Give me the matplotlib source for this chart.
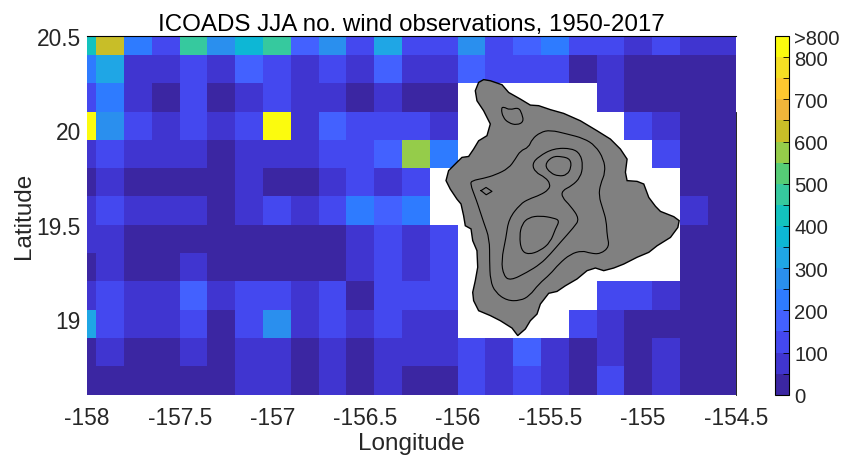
import numpy as np
import matplotlib
matplotlib.use("Agg")
import matplotlib.pyplot as plt
from matplotlib.colors import ListedColormap, BoundaryNorm
from matplotlib.path import Path
from matplotlib.patches import PathPatch

plt.rcParams['font.family'] = ['Liberation Sans', 'DejaVu Sans']
N = np.nan

lon_edges = [-158.0, -157.95, -157.8, -157.65, -157.5, -157.35, -157.2, -157.05, -156.9,
             -156.75, -156.6, -156.45, -156.3, -156.15, -156.0, -155.85, -155.7, -155.55,
             -155.4, -155.25, -155.1, -154.95, -154.8, -154.65, -154.5]
lat_edges = [20.5, 20.4, 20.25, 20.1, 19.95, 19.8, 19.65, 19.5, 19.35, 19.2, 19.05, 18.9, 18.75, 18.6]

obs_r01 = [425,625,225,125,475,275,375,475,175,275,125,325,125,125,275,125,175,225,125,125,75,125,75,75]
obs_r02 = [225,325,75,75,125,75,175,125,75,125,75,175,75,75,175,125,125,125,25,75,25,25,25,25]
obs_r03 = [125,225,75,25,125,25,75,125,75,75,25,75,25,25,N,N,N,N,N,75,25,25,25,25]
obs_r04 = [825,275,125,75,125,75,125,825,75,175,125,125,125,75,N,N,N,N,N,N,125,75,25,25]
obs_r05 = [75,125,75,75,75,25,75,75,75,125,125,175,575,225,N,N,N,N,N,N,N,125,25,25]
obs_r06 = [25,75,25,25,25,25,75,25,25,75,125,75,125,N,N,N,N,N,N,N,N,N,25,25]
obs_r07 = [75,125,75,75,75,25,75,125,75,125,225,175,225,N,N,N,N,N,N,N,N,N,75,25]
obs_r08 = [75,75,25,25,25,25,25,25,25,25,75,125,75,125,N,N,N,N,N,N,N,N,25,25]
obs_r09 = [25,75,25,25,75,25,25,25,25,25,75,125,75,125,N,N,N,N,N,N,N,N,25,25]
obs_r10 = [75,125,75,75,175,75,125,125,75,125,25,125,125,125,N,N,N,N,N,125,125,75,25,25]
obs_r11 = [325,125,75,75,125,25,125,275,75,125,75,125,75,75,N,N,N,N,125,75,25,25,25,25]
obs_r12 = [25,75,25,25,75,25,75,75,25,75,25,75,75,75,125,75,175,75,25,75,25,75,25,25]
obs_r13 = [25,25,25,25,25,25,75,75,25,75,25,75,25,25,125,75,125,75,25,125,25,75,25,25]
obs = np.array([obs_r01, obs_r02, obs_r03, obs_r04, obs_r05, obs_r06, obs_r07,
                obs_r08, obs_r09, obs_r10, obs_r11, obs_r12, obs_r13], dtype=float)

level_colors = ['#3B26A2','#4035D0','#4448EF','#4361FF','#2E7BFF','#2A8FEE','#1FA6E5','#0DB7D5',
                '#13C2BE','#36C99E','#56CC76','#95CC4A','#C8BE28','#F0B63A','#FEC72F','#F5DF23','#FBFB0E']
level_bounds = list(range(0, 851, 50))
cbar_ticks = list(range(0, 851, 50))
cbar_labels = ['0','','100','','200','','300','','400','','500','','600','','700','','800','>800']

island_lon = [-155.860,-155.824,-155.761,-155.725,-155.662,-155.608,-155.563,-155.500,-155.428,-155.338,
              -155.248,-155.176,-155.122,-155.086,-155.095,-155.086,-155.032,-154.996,-154.969,-154.933,
              -154.906,-154.834,-154.805,-154.812,-154.852,-154.924,-154.969,-155.032,-155.104,-155.158,
              -155.212,-155.257,-155.302,-155.356,-155.419,-155.464,-155.509,-155.554,-155.572,-155.608,
              -155.635,-155.676,-155.707,-155.770,-155.824,-155.887,-155.914,-155.919,-155.905,-155.892,
              -155.896,-155.919,-155.928,-155.959,-155.968,-155.982,-156.004,-156.040,-156.063,-156.049,
              -156.004,-155.977,-155.941,-155.914,-155.887,-155.842,-155.824,-155.860,-155.896,-155.905,-155.887]
island_lat = [20.269,20.263,20.242,20.201,20.166,20.134,20.131,20.110,20.090,20.051,
              19.998,19.954,19.901,19.848,19.778,19.734,19.730,19.716,19.645,19.598,
              19.571,19.543,19.522,19.486,19.433,19.389,19.354,19.328,19.292,19.271,
              19.257,19.271,19.257,19.213,19.177,19.147,19.137,19.080,19.027,18.992,
              18.948,18.913,18.953,18.992,19.019,19.045,19.098,19.142,19.204,19.275,
              19.363,19.416,19.478,19.495,19.548,19.610,19.636,19.689,19.734,19.787,
              19.831,19.857,19.862,19.901,19.945,19.972,20.034,20.104,20.157,20.210,20.254]

kohala_lon = [-155.766,-155.752,-155.720,-155.671,-155.653,-155.644,-155.680,-155.725,-155.756,-155.766]
kohala_lat = [20.117,20.125,20.108,20.122,20.087,20.046,20.028,20.039,20.069,20.117]
diamond_lon = [-155.874,-155.847,-155.815,-155.846,-155.874]
diamond_lat = [19.681,19.698,19.677,19.659,19.681]
kea_lon = [-155.532,-155.491,-155.437,-155.392,-155.387,-155.410,-155.455,-155.500]
kea_lat = [19.817,19.862,19.862,19.848,19.804,19.764,19.757,19.774]
loa_lon = [-155.450,-155.482,-155.554,-155.617,-155.653,-155.667,-155.657,-155.617,-155.554,-155.500,-155.473]
loa_lat = [19.522,19.536,19.548,19.539,19.504,19.442,19.363,19.342,19.363,19.407,19.478]
mid_lon = [-155.482,-155.383,-155.338,-155.324,-155.338,-155.383,-155.437,-155.437,-155.392,-155.342,
           -155.374,-155.446,-155.500,-155.554,-155.626,-155.716,-155.752,-155.765,-155.739,-155.725,
           -155.662,-155.617,-155.554,-155.509,-155.500,-155.527,-155.581,-155.599,-155.563]
mid_lat = [19.905,19.905,19.875,19.813,19.751,19.707,19.681,19.645,19.601,19.531,
           19.486,19.407,19.345,19.292,19.248,19.204,19.230,19.310,19.433,19.531,
           19.610,19.636,19.658,19.686,19.716,19.751,19.778,19.822,19.862]
outer_lon = [-155.932,-155.923,-155.860,-155.797,-155.725,-155.689,-155.662,-155.617,-155.599,-155.554,
             -155.500,-155.410,-155.320,-155.257,-155.212,-155.203,-155.230,-155.239,-155.217,-155.198,
             -155.194,-155.181,-155.230,-155.284,-155.329,-155.392,-155.455,-155.500,-155.563,-155.612,
             -155.662,-155.734,-155.797,-155.824,-155.828,-155.828,-155.860,-155.892,-155.905]
outer_lat = [19.716,19.734,19.746,19.764,19.799,19.848,19.892,19.910,19.954,19.990,
             20.002,19.981,19.958,19.919,19.848,19.778,19.716,19.654,19.584,19.522,
             19.442,19.384,19.345,19.349,19.363,19.345,19.292,19.239,19.186,19.124,
             19.098,19.098,19.142,19.204,19.310,19.425,19.513,19.610,19.645]


def rounded_path(xs, ys):
    """Closed path through the read points, with corners drawn as quadratic curves."""
    p = np.column_stack([xs, ys])
    q = np.roll(p, -1, axis=0)
    mids = (p + q) / 2
    verts = [mids[-1]]
    codes = [Path.MOVETO]
    for ctrl, end in zip(p, mids):
        verts += [ctrl, end]
        codes += [Path.CURVE3, Path.CURVE3]
    return Path(verts, codes)


W, H = 844, 456
fig = plt.figure(figsize=(W/100, H/100), dpi=100)
ax = fig.add_axes([87/W, 1-395.7/H, (735.7-87)/W, (395.7-37)/H])
cax = fig.add_axes([774.5/W, 1-395.7/H, 14.3/W, (395.7-37)/H])

cmap = ListedColormap(level_colors)
norm = BoundaryNorm(level_bounds, cmap.N)
mesh = ax.pcolormesh(lon_edges, lat_edges, obs, cmap=cmap, norm=norm, antialiased=False)

ax.fill(island_lon, island_lat, facecolor='#808080', edgecolor='black', linewidth=1.0, zorder=3)
ax.plot(diamond_lon, diamond_lat, color='black', linewidth=0.8, zorder=4)
for cx, cy in [(kohala_lon[:-1], kohala_lat[:-1]), (kea_lon, kea_lat), (loa_lon, loa_lat),
               (mid_lon, mid_lat), (outer_lon, outer_lat)]:
    ax.add_patch(PathPatch(rounded_path(cx, cy), facecolor='none', edgecolor='black',
                           linewidth=0.8, zorder=4))

ax.set_xlim(-158, -154.5)
ax.set_ylim(18.6, 20.5)
ax.set_xticks([-158, -157.5, -157, -156.5, -156, -155.5, -155, -154.5])
ax.set_xticklabels(['-158', '-157.5', '-157', '-156.5', '-156', '-155.5', '-155', '-154.5'])
ax.set_yticks([19, 19.5, 20, 20.5])
ax.set_yticklabels(['19', '19.5', '20', '20.5'])
ax.tick_params(axis='both', length=0, labelsize=16.4, labelcolor='#262626')
ax.tick_params(axis='x', pad=8)
ax.tick_params(axis='y', pad=4.5)
for s in ['left', 'bottom']:
    ax.spines[s].set_visible(False)
ax.spines['top'].set_linewidth(0.8)
ax.spines['right'].set_linewidth(0.6)
ax.spines['right'].set_bounds(18.6, 20.1)
ax.set_xlabel('Longitude', fontsize=17.5, color='#262626', labelpad=2.5)
ax.set_ylabel('Latitude', fontsize=17.5, color='#262626', labelpad=1)
ax.set_title('ICOADS JJA no. wind observations, 1950-2017', fontsize=17.4, color='black', pad=4)

cb = fig.colorbar(mesh, cax=cax, ticks=cbar_ticks, spacing='proportional', drawedges=False)
cb.set_ticklabels(cbar_labels)
cb.minorticks_off()
cb.ax.tick_params(direction='in', length=4, width=0.6, color='black', labelsize=14.6, labelcolor='#262626', pad=4)
cb.outline.set_linewidth(0.8)
fig.savefig('out.png', dpi=100)
